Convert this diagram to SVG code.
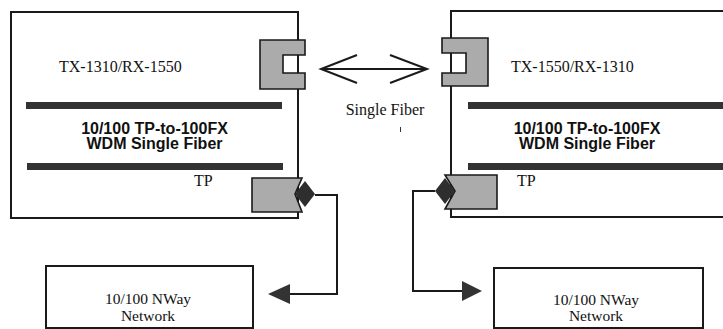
<svg xmlns="http://www.w3.org/2000/svg" width="723" height="329" viewBox="0 0 723 329">
<style>
.box{fill:#fff;stroke:#1a1a1a;stroke-width:2}
.gray{fill:#ababab;stroke:#1a1a1a;stroke-width:1.6;stroke-linejoin:miter}
.dia{fill:#2e2e2e}
.bar{fill:#333}
.serif{font-family:"Liberation Serif","Times New Roman",serif;font-size:16px;fill:#111}
.bold{font-family:"Liberation Sans",Arial,sans-serif;font-size:16px;font-weight:bold;fill:#111;text-anchor:middle}
.net{font-family:"Liberation Serif","Times New Roman",serif;font-size:15.5px;fill:#111;text-anchor:middle}
.wire{fill:none;stroke:#1a1a1a;stroke-width:2}
.head{fill:#333}
</style>
<rect width="723" height="329" fill="#fff"/>

<g id="converter-left">
  <rect class="box" x="11" y="12" width="287" height="206"/>
  <text class="serif" x="59" y="72">TX-1310/RX-1550</text>
  <rect class="bar" x="26" y="102" width="256" height="7"/>
  <text class="bold" x="154.5" y="133.5">10/100 TP-to-100FX</text>
  <text class="bold" x="154.5" y="148.5">WDM Single Fiber</text>
  <rect class="bar" x="27" y="163" width="256" height="7"/>
  <text class="serif" x="194" y="186">TP</text>
  <path class="gray" d="M260,40 H305 V55 H283 V73 H305 V89 H260 Z"/>
  <path class="gray" d="M252,178 H302 L295,194 L302,212 H252 Z"/>
  <path class="dia" d="M295,194 L305,181 L315,194 L305,207 Z"/>
</g>

<g id="converter-right">
  <rect class="box" x="451" y="11" width="280" height="206"/>
  <text class="serif" x="511" y="72">TX-1550/RX-1310</text>
  <rect class="bar" x="468" y="102" width="260" height="7"/>
  <text class="bold" x="587" y="133.5">10/100 TP-to-100FX</text>
  <text class="bold" x="587" y="148.5">WDM Single Fiber</text>
  <rect class="bar" x="468" y="163" width="260" height="7"/>
  <text class="serif" x="517" y="186">TP</text>
  <path class="gray" d="M488,38 H442 V53 H466 V73 H442 V86 H488 Z"/>
  <path class="gray" d="M497,175 H445 L455,191 L445,209 H497 Z"/>
  <path class="dia" d="M435,191 L445,178 L455,191 L445,204 Z"/>
</g>

<g id="network-left">
  <rect class="box" x="46" y="266" width="207" height="62"/>
  <text class="net" x="148" y="304">10/100 NWay</text>
  <text class="net" x="148" y="321">Network</text>
</g>

<g id="network-right">
  <rect class="box" x="494" y="268" width="209" height="60"/>
  <text class="net" x="596" y="305">10/100 NWay</text>
  <text class="net" x="596" y="321">Network</text>
</g>

<g id="connectors">
  <line class="wire" x1="321" y1="69" x2="427" y2="69"/>
  <polyline class="wire" points="357,55 321,69 357,83"/>
  <polyline class="wire" points="390,55 427,69 390,83"/>
  <text class="serif" x="385" y="115" text-anchor="middle">Single Fiber</text>
  <line x1="400.5" y1="127" x2="400.5" y2="132" stroke="#333" stroke-width="1"/>
  <path class="wire" d="M315,195 H337 V294 H289"/>
  <polygon class="head" points="268,294 290,284 290,304"/>
  <path class="wire" d="M435,191 H413 V291 H463"/>
  <polygon class="head" points="482,291 462,281 462,301"/>
</g>
</svg>
